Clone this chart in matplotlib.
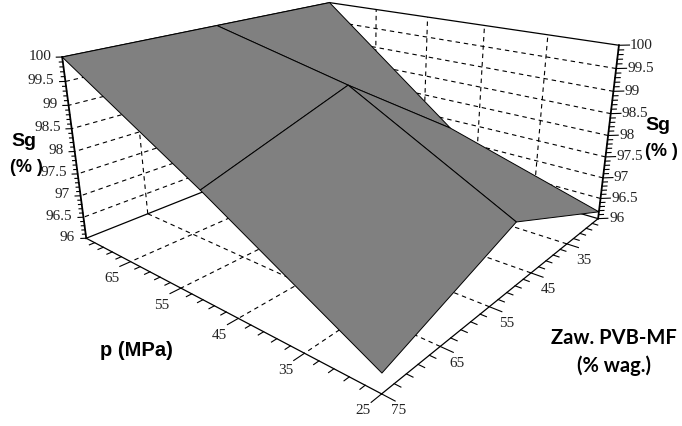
import numpy as np
import matplotlib
matplotlib.use("Agg")
import matplotlib.pyplot as plt
from mpl_toolkits.mplot3d import proj3d

# ---- data ----
p_mesh = [25, 50, 75]
zaw_mesh = [25, 50, 75]
# rows: zaw (25, 50, 75); columns: p (25, 50, 75)
sg_zaw25 = [96.17, 97.28, 100.0]
sg_zaw50 = [97.41, 99.28, 100.0]
sg_zaw75 = [96.38, 98.26, 100.0]

p_ticks = [25, 35, 45, 55, 65]
zaw_ticks = [35, 45, 55, 65, 75]
sg_ticks = [96, 96.5, 97, 97.5, 98, 98.5, 99, 99.5, 100]
sg_labels = ['96', '96.5', '97', '97.5', '98', '98.5', '99', '99.5', '100']
p_minor = [27, 29, 31, 33, 37, 39, 41, 43, 47, 49, 51, 53, 57, 59, 61, 63, 67, 69, 71, 73]
zaw_minor = [27, 29, 31, 33, 37, 39, 41, 43, 47, 49, 51, 53, 57, 59, 61, 63, 67, 69, 71, 73]
sg_minor = [96.1, 96.2, 96.3, 96.4, 96.6, 96.7, 96.8, 96.9, 97.1, 97.2, 97.3, 97.4,
            97.6, 97.7, 97.8, 97.9, 98.1, 98.2, 98.3, 98.4, 98.6, 98.7, 98.8, 98.9,
            99.1, 99.2, 99.3, 99.4, 99.6, 99.7, 99.8, 99.9]
grid_inner = [35, 45, 55, 65]
sg_inner = [96.5, 97, 97.5, 98, 98.5, 99, 99.5]

P_MIN, P_MAX, Z_MIN, Z_MAX, S_MIN, S_MAX = 25, 75, 25, 75, 96, 100

W, H = 682, 426
fig = plt.figure(figsize=(W/100, H/100), dpi=100, facecolor='white')
ax = fig.add_axes([0.4028, 0.4909, 0.2101, 0.3363], projection='3d')
ax.computed_zorder = False
ax.set_axis_off()
ax.view_init(elev=20.163, azim=130.195, roll=0.145)
ax.set_box_aspect((1.209, 1.199, 0.600), zoom=3.842)
ax.set_xlim(P_MIN, P_MAX)
ax.set_ylim(Z_MIN, Z_MAX)
ax.set_zlim(S_MIN, S_MAX)

dash = dict(color='black', lw=0.8, ls=(0, (4, 3.5)), zorder=1, clip_on=False)
solid = dict(color='black', lw=0.9, zorder=3, clip_on=False)
tick = dict(color='black', lw=0.8, zorder=3, clip_on=False)
serif = dict(family='Liberation Serif', fontsize=11, color='#222222', zorder=5, annotation_clip=False)

M = ax.get_proj()

def label3d(x, y, z, s, dx, dy, ha='center'):
    """Place a label at a pixel offset from a data point projected by the axes."""
    u, v, _ = proj3d.proj_transform(x, y, z, M)
    ax.annotate(s, (u, v), xycoords='data', xytext=(dx, dy), textcoords='offset pixels',
                ha=ha, va='center', **serif)

# wall and floor grids
for s in sg_inner:
    ax.plot([P_MAX, P_MAX], [Z_MIN, Z_MAX], [s, s], **dash)
    ax.plot([P_MIN, P_MAX], [Z_MIN, Z_MIN], [s, s], **dash)
for v in grid_inner:
    ax.plot([P_MAX, P_MAX], [v, v], [S_MIN, S_MAX], **dash)
    ax.plot([v, v], [Z_MIN, Z_MIN], [S_MIN, S_MAX], **dash)
    ax.plot([P_MIN, P_MAX], [v, v], [S_MIN, S_MIN], **dash)
    ax.plot([v, v], [Z_MIN, Z_MAX], [S_MIN, S_MIN], **dash)

# back edges, hidden by the surface where they pass behind it
edge_back = dict(color='black', lw=0.9, zorder=1.5, clip_on=False)
ax.plot([P_MAX, P_MAX], [Z_MIN, Z_MAX], [S_MIN, S_MIN], **edge_back)
ax.plot([P_MIN, P_MAX], [Z_MIN, Z_MIN], [S_MIN, S_MIN], **edge_back)
ax.plot([P_MAX, P_MAX], [Z_MIN, Z_MAX], [S_MAX, S_MAX], **edge_back)
ax.plot([P_MIN, P_MAX], [Z_MIN, Z_MIN], [S_MAX, S_MAX], **edge_back)

# surface
PP, ZZ = np.meshgrid(p_mesh, zaw_mesh)
SS = np.array([sg_zaw25, sg_zaw50, sg_zaw75])
surf = ax.plot_surface(PP, ZZ, SS, rstride=1, cstride=1, color='#808080', shade=False,
                       edgecolor='black', linewidth=0.7, zorder=2)
surf.set_clip_on(False)

# axes in front
ax.plot([P_MIN, P_MAX], [Z_MAX, Z_MAX], [S_MIN, S_MIN], **solid)
ax.plot([P_MIN, P_MIN], [Z_MIN, Z_MAX], [S_MIN, S_MIN], **solid)
ax.plot([P_MAX, P_MAX], [Z_MAX, Z_MAX], [S_MIN, S_MAX], color='black', lw=1.3, zorder=3, clip_on=False)
ax.plot([P_MIN, P_MIN], [Z_MIN, Z_MIN], [S_MIN, S_MAX], color='black', lw=1.3, zorder=3, clip_on=False)

# p axis ticks
for v in p_ticks:
    ax.plot([v, v], [Z_MAX, Z_MAX + 1.6], [S_MIN, S_MIN], **tick)
    label3d(v, Z_MAX, S_MIN, str(v), -19, -17)
for v in p_minor:
    ax.plot([v, v], [Z_MAX, Z_MAX + 0.8], [S_MIN, S_MIN], **tick)

# zaw axis ticks
for v in zaw_ticks:
    ax.plot([P_MIN, P_MIN - 1.6], [v, v], [S_MIN, S_MIN], **tick)
    label3d(P_MIN, v, S_MIN, str(v), 17, -17)
for v in zaw_minor:
    ax.plot([P_MIN, P_MIN - 0.8], [v, v], [S_MIN, S_MIN], **tick)

# Sg axes (left and right)
for v, lab in zip(sg_ticks, sg_labels):
    ax.plot([P_MAX, P_MAX + 0.5], [Z_MAX, Z_MAX + 0.5], [v, v], **tick)
    ax.plot([P_MIN, P_MIN - 1.0], [Z_MIN, Z_MIN - 1.0], [v, v], **tick)
    label3d(P_MAX, Z_MAX, v, lab, -11, 1, ha='right')
    label3d(P_MIN, Z_MIN, v, lab, 11, 0, ha='left')
for v in sg_minor:
    ax.plot([P_MAX, P_MAX + 0.3], [Z_MAX, Z_MAX + 0.3], [v, v], **tick)
    ax.plot([P_MIN, P_MIN - 0.5], [Z_MIN, Z_MIN - 0.5], [v, v], **tick)

ax.set_xlim(P_MIN, P_MAX)
ax.set_ylim(Z_MIN, Z_MAX)
ax.set_zlim(S_MIN, S_MAX)

def ftext(x, y, s, **kw):
    fig.text(x / W, 1 - y / H, s, ha='center', va='center', **kw)

bold = dict(family='Liberation Sans', fontweight='bold', color='black')
ftext(24, 141, 'Sg', fontsize=14, **bold)
ftext(26, 167, '(% )', fontsize=13, **bold)
ftext(658, 126, 'Sg', fontsize=14, **bold)
ftext(661, 152, '(% )', fontsize=13, **bold)
ftext(136, 350, 'p (MPa)', fontsize=14.5, **bold)
ftext(614, 338, 'Zaw. PVB-MF', family='Lato', fontweight='bold', fontsize=14.5, color='black')
ftext(614, 366, '(% wag.)', family='Lato', fontweight='bold', fontsize=14.5, color='black')

fig.savefig('out.png', dpi=100)
